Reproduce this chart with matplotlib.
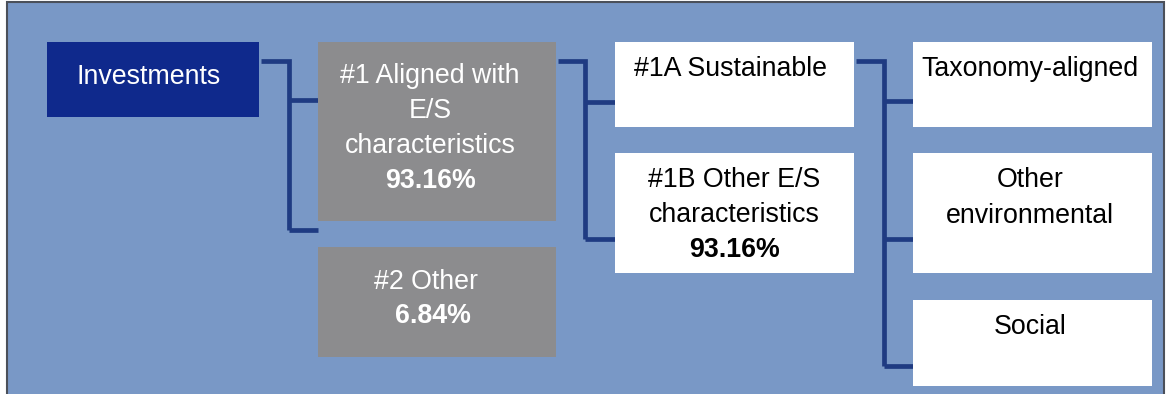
import matplotlib
matplotlib.use("Agg")
import matplotlib.pyplot as plt
from matplotlib.patches import Rectangle

# ---- data ----
node_names = ["Investments",
              "#1 Aligned with\nE/S\ncharacteristics",
              "#2 Other",
              "#1A Sustainable",
              "#1B Other E/S\ncharacteristics",
              "Taxonomy-aligned",
              "Other\nenvironmental",
              "Social"]
node_shares = [None, 93.16, 6.84, None, 93.16, None, None, None]
parents = [None, 0, 0, 1, 1, 3, 3, 3]

# ---- layout (pixel coordinates, y downward) ----
boxes = [  # x0, y0, x1, y1
    (47, 42, 259, 117),
    (318, 42, 556, 221),
    (318, 247, 556, 357),
    (615, 42, 854, 127),
    (615, 153, 854, 273),
    (913, 42, 1152, 127),
    (913, 153, 1152, 273),
    (913, 300, 1152, 386),
]
text_cx = [149, 430, 426, 731, 734, 1030, 1030, 1030]
share_cx = [None, 430, 433, None, 735, None, None, None]
first_base = [84, 83, 289, 76, 187, 76, 187, 334]
line_gap = [35, 35, 34, 35, 35, 35, 36, 35]
fills = ["#0F298C", "#8C8C8E", "#8C8C8E", "white", "white", "white", "white", "white"]
txt_col = ["white", "white", "white", "black", "black", "black", "black", "black"]
branch_y = {1: 100, 2: 230, 3: 101.5, 4: 238.5, 5: 101, 6: 238.5, 7: 365.5}
trunk_x = {0: 288.5, 1: 585, 3: 883.5}
stub_y = 60.5

W, H = 1167, 394
BG = "#7998C6"
LINE = "#1F3B82"
FONT = ["Liberation Sans", "DejaVu Sans"]
FS = 19.3

fig = plt.figure(figsize=(W / 100, H / 100), dpi=100)
ax = fig.add_axes([0, 0, 1, 1])
ax.set_xlim(0, W)
ax.set_ylim(H, 0)
ax.axis("off")

# panel background + border
ax.add_patch(Rectangle((7, 1), 1157, H, facecolor=BG, edgecolor="none", zorder=0))
ax.plot([7, 7, 1163.5, 1163.5], [H, 1.5, 1.5, H], color="#4B505A", lw=1.5,
        solid_joinstyle="miter", zorder=1)

# connectors
for p, tx in trunk_x.items():
    kids = [i for i, q in enumerate(parents) if q == p]
    x_start = boxes[p][2] + 2
    ys = [branch_y[k] for k in kids]
    ax.plot([x_start, tx, tx], [stub_y, stub_y, max(ys)], color=LINE, lw=3.4,
            solid_joinstyle="miter", solid_capstyle="butt", zorder=2)
    for k in kids:
        ax.plot([tx, boxes[k][0]], [branch_y[k], branch_y[k]], color=LINE, lw=3.4,
                solid_capstyle="butt", zorder=2)

# boxes and text
for i, name in enumerate(node_names):
    x0, y0, x1, y1 = boxes[i]
    ax.add_patch(Rectangle((x0, y0), x1 - x0, y1 - y0, facecolor=fills[i],
                           edgecolor="none", zorder=3))
    lines = name.split("\n")
    for j, ln in enumerate(lines):
        ax.text(text_cx[i], first_base[i] + j * line_gap[i], ln, ha="center",
                va="baseline", fontsize=FS, family=FONT, color=txt_col[i], zorder=4)
    if node_shares[i] is not None:
        ax.text(share_cx[i], first_base[i] + len(lines) * line_gap[i],
                f"{node_shares[i]:.2f}%", ha="center", va="baseline", fontsize=FS,
                family=FONT, fontweight="bold", color=txt_col[i], zorder=4)

fig.savefig("out.png", dpi=100)
